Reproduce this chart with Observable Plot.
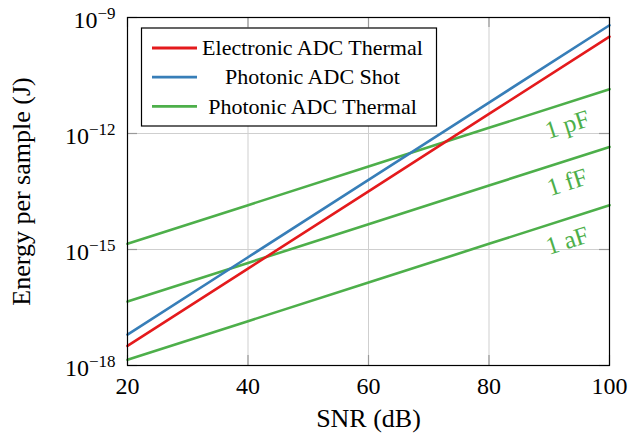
<!DOCTYPE html>
<html>
<head>
<meta charset="utf-8">
<script src="https://cdn.jsdelivr.net/npm/d3@7"></script>
<script src="https://cdn.jsdelivr.net/npm/@observablehq/plot@0.6"></script>
<style>
  html, body { margin: 0; padding: 0; background: white; }
  #chart { width: 631px; height: 435px; }
  #chart svg text, #chart svg tspan { font-family: 'Liberation Serif', 'Times New Roman', serif !important; }
</style>
</head>
<body>
<div id="chart"></div>
<script>
// Energy per sample versus SNR for electronic and photonic ADCs
const snr = [20, 40, 60, 80, 100];
const electronicThermal = [3.2e-18, 3.2e-16, 3.2e-14, 3.2e-12, 3.2e-10];
const photonicShot = [6.3e-18, 6.3e-16, 6.3e-14, 6.3e-12, 6.3e-10];
const photonicThermal1pF = [1.4e-15, 1.4e-14, 1.4e-13, 1.4e-12, 1.4e-11];
const photonicThermal1fF = [4.5e-17, 4.5e-16, 4.5e-15, 4.5e-14, 4.5e-13];
const photonicThermal1aF = [1.4e-18, 1.4e-17, 1.4e-16, 1.4e-15, 1.4e-14];

const capacitanceLabels = ["1 pF", "1 fF", "1 aF"];
const legendNames = ["Electronic ADC Thermal", "Photonic ADC Shot", "Photonic ADC Thermal"];
const xTicks = [20, 40, 60, 80, 100];
const yTicks = [1e-18, 1e-15, 1e-12, 1e-9];

const RED = "#e41a1c", BLUE = "#377eb8", GREEN = "#4daf4a";
const legendColors = [RED, BLUE, GREEN];

// layout
const W = 631, H = 435;
const M = {top: 17, right: 22, bottom: 70, left: 127};
const innerW = W - M.left - M.right;
const innerH = H - M.top - M.bottom;
const SERIF = "'Liberation Serif', 'Times New Roman', serif";

const toRows = (values, series) => snr.map((s, i) => ({snr: s, energy: values[i], series}));
const curves = [
  {values: photonicThermal1pF, color: GREEN, name: "1 pF"},
  {values: photonicThermal1fF, color: GREEN, name: "1 fF"},
  {values: photonicThermal1aF, color: GREEN, name: "1 aF"},
  {values: electronicThermal, color: RED, name: legendNames[0]},
  {values: photonicShot, color: BLUE, name: legendNames[1]}
];

// capacitance labels sit just below each green line near the right edge
const LABEL_AT = 93;
const thermalSets = [photonicThermal1pF, photonicThermal1fF, photonicThermal1aF];
const labelRows = thermalSets.map((v, i) => {
  const a = Math.log10(v[3]), b = Math.log10(v[4]);
  const t = (LABEL_AT - snr[3]) / (snr[4] - snr[3]);
  return {snr: LABEL_AT, energy: Math.pow(10, a + t * (b - a)), text: capacitanceLabels[i]};
});
const decadesPerDb = (Math.log10(photonicThermal1pF[4]) - Math.log10(photonicThermal1pF[3])) / (snr[4] - snr[3]);
const pxPerDb = innerW / (xTicks[xTicks.length - 1] - xTicks[0]);
const pxPerDecade = innerH / (Math.log10(yTicks[yTicks.length - 1]) - Math.log10(yTicks[0]));
const labelAngle = -Math.atan(decadesPerDb * pxPerDecade / pxPerDb) * 180 / Math.PI;

const TICK = 10;
const gridStyle = {stroke: "#cfcfcf", strokeOpacity: 1, strokeWidth: 1};
const tickStyle = {stroke: "#9a9a9a", strokeWidth: 1.2};

const chart = Plot.plot({
  width: W, height: H,
  marginTop: M.top, marginRight: M.right, marginBottom: M.bottom, marginLeft: M.left,
  style: {fontFamily: SERIF, fontSize: "24px", color: "black", background: "white", overflow: "visible"},
  x: {domain: [20, 100]},
  y: {type: "log", domain: [1e-18, 1e-9]},
  marks: [
    Plot.gridX(xTicks, gridStyle),
    Plot.gridY(yTicks, gridStyle),
    Plot.ruleX(xTicks, {...tickStyle, insetTop: innerH - TICK}),
    Plot.ruleX(xTicks, {...tickStyle, insetBottom: innerH - TICK}),
    Plot.ruleY(yTicks, {...tickStyle, insetRight: innerW - TICK}),
    Plot.ruleY(yTicks, {...tickStyle, insetLeft: innerW - TICK}),
    ...curves.map(c => Plot.line(toRows(c.values, c.name), {
      x: "snr", y: "energy", stroke: c.color, strokeWidth: 2.6
    })),
    Plot.text(labelRows, {
      x: "snr", y: "energy", text: "text", fill: GREEN, fontSize: 25, fontFamily: SERIF,
      rotate: labelAngle, dy: 22, textAnchor: "middle", lineAnchor: "middle"
    }),
    Plot.frame({stroke: "black", strokeWidth: 1.2}),
    Plot.axisX(xTicks, {tickSize: 0, tickPadding: 11, label: null, fontFamily: SERIF, fontSize: 24}),
    Plot.axisY(yTicks, {
      tickSize: 0, tickPadding: 12, dy: 3, label: null, fontFamily: SERIF, fontSize: 24,
      tickFormat: d => `10^${Math.round(Math.log10(d))}`
    }),
    Plot.text(["SNR (dB)"], {
      text: d => d, frameAnchor: "bottom", textAnchor: "middle", dy: 53,
      lineAnchor: "middle", fontSize: 26, fontFamily: SERIF
    }),
    Plot.text(["Energy per sample (J)"], {
      text: d => d, frameAnchor: "left", textAnchor: "middle", dx: -106, rotate: -90,
      lineAnchor: "middle", fontSize: 26, fontFamily: SERIF
    })
  ]
});

document.getElementById("chart").appendChild(chart);

// power-of-ten tick labels with a raised exponent
d3.select(chart).selectAll("g[aria-label='y-axis tick label'] text").each(function () {
  const s = d3.select(this);
  const exp = s.text().split("^")[1];
  s.text(null);
  s.append("tspan").text("10");
  s.append("tspan").attr("dy", "-0.55em").attr("font-size", "17px")
    .text(exp.replace("-", "\u2212"));
});

// legend box in the upper left corner of the frame
const LG = {x: M.left + 14.5, y: M.top + 11, w: 295, h: 98, row0: 20, rowStep: 29.2};
const legend = d3.select(chart).append("g").attr("transform", `translate(${LG.x},${LG.y})`);
legend.append("rect").attr("width", LG.w).attr("height", LG.h)
  .attr("fill", "white").attr("stroke", "black").attr("stroke-width", 1.2);
legendNames.forEach((name, i) => {
  const y = LG.row0 + i * LG.rowStep;
  legend.append("line").attr("x1", 10.5).attr("x2", 55.5).attr("y1", y).attr("y2", y)
    .attr("stroke", legendColors[i]).attr("stroke-width", 2.8);
  legend.append("text").attr("x", 171).attr("y", y).attr("dy", "0.33em")
    .attr("text-anchor", "middle").attr("font-family", SERIF).attr("font-size", 22)
    .attr("fill", "black").text(name);
});
</script>
</body>
</html>
